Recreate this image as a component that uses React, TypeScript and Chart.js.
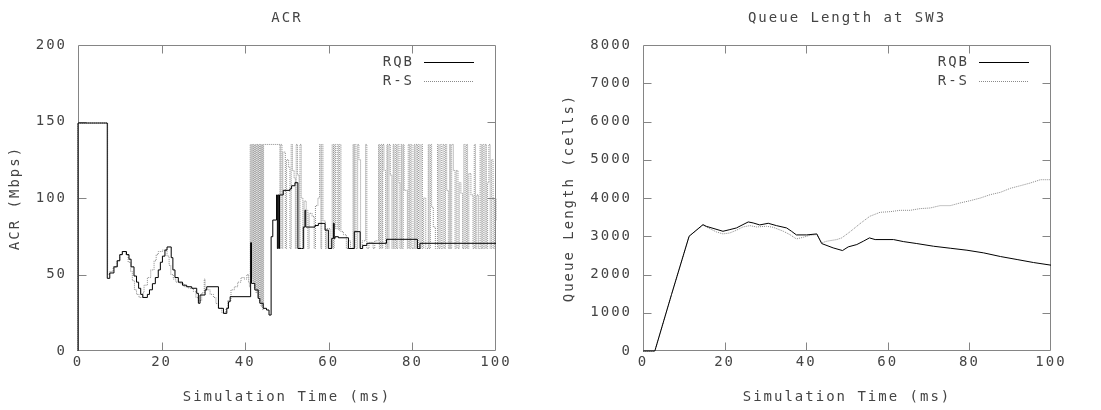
import React, { useEffect, useRef } from "react";
import { Chart, registerables } from "chart.js";

Chart.register(...registerables);

const FONT = "'DejaVu Sans Mono', monospace";
const FONT_SIZE = 14;
const SPACING = "2px";
const TEXT = "#444444";
const FRAME = "#858585";

const seriesLabels = ["RQB", "R-S"];
const timeTicks = [0, 20, 40, 60, 80, 100];
const acrTicks = [0, 50, 100, 150, 200];
const queueTicks = [0, 1000, 2000, 3000, 4000, 5000, 6000, 7000, 8000];

// ACR (Mbps) vs time (ms), stepped (value holds until next x)
const acrRqb: number[][] = [
  [0, 0], [0, 149], [7.0, 47.5], [7.6, 51], [8.6, 55], [9.4, 59], [10.0, 63], [10.6, 65],
  [11.6, 63], [12.2, 60], [12.7, 55], [13.4, 49], [14.0, 45], [14.5, 41], [15.0, 37], [15.5, 35],
  [16.6, 37], [17.1, 40], [17.8, 44], [18.5, 48], [19.2, 53], [19.7, 58], [20.2, 62], [20.8, 66],
  [21.3, 68], [22.3, 61], [22.7, 53], [23.2, 48], [24.0, 45], [25.0, 43], [26.0, 42], [27.2, 41],
  [28.4, 37.7], [28.8, 31.2], [29.2, 36.6], [30.4, 39.9], [30.8, 42], [33.6, 27.9], [34.8, 24.6],
  [35.6, 27.9], [36.0, 32.2], [36.4, 35.5], [41.3, 70.8], [41.5, 44.2], [42.3, 39.9], [43.1, 34.4],
  [43.5, 31.2], [44.3, 27.9], [45.1, 26.8], [45.7, 23.5], [46.2, 74.7], [46.6, 85.6], [47.5, 102],
  [47.7, 67], [47.9, 102], [48.1, 67], [48.2, 102], [49.1, 105], [50.7, 106], [51.1, 108],
  [51.9, 110], [52.6, 67], [53.5, 67], [53.9, 81], [54.3, 92], [54.5, 81], [56.7, 82], [57.5, 83.4],
  [59.1, 79], [59.9, 67], [60.7, 73.6], [61.1, 83.4], [61.3, 73.6], [61.5, 74.7], [62.3, 74],
  [64.7, 67], [66.1, 78], [67.5, 67], [68.1, 69], [69.1, 70.4], [73.8, 73], [81.2, 67], [81.8, 70.4],
  [100, 70.4],
];

const acrRs: number[][] = [
  [0, 0], [0, 149], [7.1, 50], [7.6, 52], [8.4, 55], [9.2, 59], [10.0, 63], [10.6, 65], [11.4, 63],
  [12.0, 58], [12.6, 52], [13.0, 46], [13.5, 40], [14.0, 37], [14.6, 35], [15.5, 38], [15.8, 43],
  [16.6, 48], [17.4, 53], [18.2, 59], [18.7, 63], [19.2, 65], [20.2, 66], [21.3, 62], [21.8, 56],
  [22.2, 50], [22.8, 47], [23.4, 45], [24.4, 44], [25.4, 42], [26.5, 41], [27.6, 39], [28.2, 35],
  [28.8, 33], [29.6, 38], [30.2, 47], [30.4, 40], [31.6, 37], [32.4, 35], [33.0, 31], [33.6, 28],
  [34.4, 25], [35.4, 28], [35.8, 33], [36.6, 40], [37.4, 42], [38.2, 45], [39.0, 48], [39.8, 47],
  [40.4, 50], [40.8, 45], [41.0, 42],
  [41.2, 135], [41.4, 48], [41.6, 135], [41.8, 45], [42.0, 135], [42.2, 41], [42.4, 135], [42.6, 38],
  [42.8, 135], [43.0, 35], [43.2, 135], [43.4, 32], [43.6, 135], [43.8, 29], [44.0, 135], [44.2, 27],
  [44.4, 135], [48.3, 67], [48.5, 135], [48.8, 67], [49.0, 130], [49.6, 67], [49.9, 125], [50.4, 120],
  [50.7, 67], [51.0, 135], [51.3, 118], [51.7, 113], [52.0, 67], [52.2, 135], [52.5, 115], [52.9, 67],
  [53.1, 135], [53.4, 100], [53.8, 67], [54.1, 98], [54.6, 92], [55.0, 67], [55.3, 90], [56.0, 88],
  [56.5, 67], [56.8, 95], [57.4, 100], [57.8, 135], [58.1, 67], [58.3, 135], [58.6, 85], [59.2, 67],
  [59.5, 80], [60.3, 67], [60.8, 135], [61.1, 67], [61.3, 135], [61.6, 80], [62.0, 135], [62.3, 79],
  [62.6, 135], [62.9, 78], [63.5, 76], [64.2, 67], [64.6, 72], [65.2, 67], [65.8, 135], [66.0, 67],
  [66.2, 135], [66.5, 67], [66.9, 135], [67.2, 125], [67.6, 67], [68.0, 72], [68.8, 135], [69.1, 67],
  [69.6, 71], [70.6, 67], [71.0, 72], [71.9, 135], [72.1, 67], [72.4, 135], [72.7, 67], [72.9, 135],
  [73.2, 118], [73.6, 67], [73.9, 135], [74.1, 67], [74.4, 135], [74.7, 115], [75.1, 67], [75.4, 135],
  [75.6, 67], [75.9, 135], [76.2, 67], [76.5, 135], [76.8, 110], [77.0, 67], [77.3, 135], [77.5, 67],
  [77.8, 135], [78.0, 105], [78.8, 67], [79.0, 135], [79.3, 67], [79.6, 135], [79.9, 67], [80.4, 135],
  [80.6, 67], [80.9, 135], [81.2, 67], [81.5, 135], [81.8, 67], [82.1, 135], [82.4, 67], [82.7, 100],
  [83.2, 67], [83.8, 135], [84.0, 67], [84.3, 135], [84.6, 94], [85.0, 81], [85.5, 67], [86.0, 135],
  [86.3, 67], [86.6, 135], [86.9, 67], [87.3, 135], [87.6, 67], [87.9, 135], [88.2, 105], [88.6, 67],
  [88.9, 135], [89.1, 67], [89.4, 135], [89.8, 118], [90.2, 67], [90.5, 118], [90.9, 67], [91.2, 110],
  [91.6, 103], [92.0, 67], [92.3, 135], [92.6, 67], [92.9, 135], [93.2, 67], [93.5, 116], [94.0, 102],
  [94.5, 67], [94.8, 135], [95.1, 67], [95.4, 102], [95.8, 67], [96.2, 135], [96.5, 67], [96.8, 135],
  [97.1, 67], [97.4, 135], [97.7, 67], [98.0, 110], [98.3, 135], [98.6, 67], [98.9, 125], [99.3, 67],
  [99.6, 100], [100, 85],
];

// Queue length (cells) vs time (ms)
const queueRqb: number[][] = [
  [0, 0], [2.9, 0], [7.0, 1480], [11.3, 3000], [14.7, 3304], [15.5, 3260], [19.6, 3130], [21.3, 3174],
  [22.9, 3217], [24.5, 3304], [25.8, 3374], [27.0, 3348], [28.6, 3296], [30.7, 3339], [32.7, 3278],
  [35.2, 3217], [36.4, 3130], [37.6, 3035], [40.1, 3035], [42.6, 3061], [43.8, 2809], [46.6, 2696],
  [48.9, 2626], [50.3, 2722], [52.4, 2783], [54.0, 2870], [55.5, 2957], [56.9, 2913], [61.4, 2913],
  [63.8, 2861], [67.1, 2809], [71.2, 2739], [75.3, 2687], [79.4, 2635], [83.5, 2565], [87.6, 2470],
  [91.7, 2391], [95.7, 2313], [100, 2244],
];

const queueRs: number[][] = [
  [0, 0], [2.9, 0], [7.0, 1480], [11.3, 3000], [14.7, 3290], [16.0, 3217], [18.0, 3113], [19.6, 3061],
  [21.3, 3087], [22.9, 3157], [24.5, 3243], [26.2, 3278], [27.8, 3243], [30.3, 3261], [31.9, 3235],
  [34.4, 3130], [36.0, 3043], [37.6, 2930], [39.3, 2974], [40.9, 3026], [42.6, 3043], [43.8, 2826],
  [45.0, 2870], [47.5, 2913], [48.7, 2957], [50.7, 3113], [53.2, 3330], [55.6, 3522], [58.1, 3626],
  [60.6, 3643], [63.0, 3678], [65.5, 3678], [67.9, 3722], [70.4, 3739], [72.8, 3800], [75.3, 3800],
  [77.7, 3870], [80.2, 3930], [82.7, 4000], [85.1, 4087], [87.6, 4148], [90.0, 4252], [92.5, 4322],
  [94.9, 4391], [97.4, 4478], [100, 4478],
];

const toXY = (arr: number[][]) => arr.map(([x, y]) => ({ x, y }));

const gnuplotPlugin = {
  id: "gnuplotFrame",
  beforeUpdate(chart: any) {
    chart.ctx.letterSpacing = SPACING;
  },
  beforeDraw(chart: any) {
    const ctx = chart.ctx;
    ctx.letterSpacing = SPACING;
    ctx.save();
    ctx.fillStyle = "#ffffff";
    ctx.fillRect(0, 0, chart.width, chart.height);
    ctx.restore();
  },
  beforeDatasetsDraw(chart: any) {
    const { ctx, chartArea: a, scales } = chart;
    const L = Math.round(a.left) + 0.5;
    const R = Math.round(a.right) - 0.5;
    const T = Math.round(a.top) + 0.5;
    const B = Math.round(a.bottom) - 0.5;
    ctx.save();
    ctx.strokeStyle = FRAME;
    ctx.lineWidth = 1;
    ctx.beginPath();
    ctx.rect(L, T, R - L, B - T);
    const tl = 8;
    scales.x.ticks.forEach((t: any) => {
      const px = Math.round(scales.x.getPixelForValue(t.value)) + 0.5;
      if (px <= L + 1 || px >= R - 1) return;
      ctx.moveTo(px, B);
      ctx.lineTo(px, B - tl);
      ctx.moveTo(px, T);
      ctx.lineTo(px, T + tl);
    });
    scales.y.ticks.forEach((t: any) => {
      const py = Math.round(scales.y.getPixelForValue(t.value)) + 0.5;
      if (py <= T + 1 || py >= B - 1) return;
      ctx.moveTo(L, py);
      ctx.lineTo(L + tl, py);
      ctx.moveTo(R, py);
      ctx.lineTo(R - tl, py);
    });
    ctx.stroke();
    ctx.restore();
  },
  afterDatasetsDraw(chart: any) {
    const { ctx, chartArea: a } = chart;
    ctx.save();
    ctx.letterSpacing = SPACING;
    ctx.font = `${FONT_SIZE}px ${FONT}`;
    ctx.fillStyle = TEXT;
    ctx.textAlign = "right";
    ctx.textBaseline = "middle";
    chart.data.datasets.forEach((ds: any, i: number) => {
      const y = Math.round(a.top + 17 + i * 18.5) + 0.5;
      ctx.fillText(ds.label, a.right - 82, y);
      ctx.beginPath();
      ctx.strokeStyle = ds.borderColor;
      ctx.lineWidth = 1;
      ctx.setLineDash(ds.borderDash || []);
      ctx.moveTo(a.right - 72, y);
      ctx.lineTo(a.right - 22, y);
      ctx.stroke();
      ctx.setLineDash([]);
    });
    ctx.restore();
  },
};

function makeConfig(opts: {
  title: string;
  yTitle: string;
  yTicks: number[];
  rqb: number[][];
  rs: number[][];
  stepped: boolean;
  yWidth: number;
  padRight: number;
  yTitlePad: number;
}): any {
  const font = { family: FONT, size: FONT_SIZE, weight: "normal" as const };
  return {
    type: "line",
    data: {
      datasets: [
        {
          label: seriesLabels[0],
          data: toXY(opts.rqb),
          borderColor: "#000000",
          borderWidth: 1,
          borderDash: [],
          pointRadius: 0,
          fill: false,
          tension: 0,
          stepped: opts.stepped,
          clip: 2,
        },
        {
          label: seriesLabels[1],
          data: toXY(opts.rs),
          borderColor: "#8a8a8a",
          borderWidth: 1,
          borderDash: [1, 1],
          pointRadius: 0,
          fill: false,
          tension: 0,
          stepped: opts.stepped,
          clip: 2,
        },
      ],
    },
    options: {
      responsive: false,
      maintainAspectRatio: false,
      animation: false,
      devicePixelRatio: 1,
      events: [],
      layout: { padding: { left: 0, right: opts.padRight, top: 0, bottom: 0 } },
      plugins: {
        legend: { display: false },
        tooltip: { enabled: false },
        title: {
          display: true,
          fullSize: false,
          text: opts.title,
          color: TEXT,
          font,
          padding: { top: 10, bottom: 18.2 },
        },
      },
      scales: {
        x: {
          type: "linear",
          min: 0,
          max: 100,
          afterBuildTicks: (s: any) => {
            s.ticks = timeTicks.map((v) => ({ value: v }));
          },
          ticks: {
            color: TEXT,
            font,
            padding: 3,
            maxRotation: 0,
            autoSkip: false,
            callback: (v: any) => String(v),
          },
          grid: { display: false, drawTicks: false },
          border: { display: false },
          title: {
            display: true,
            text: "Simulation Time (ms)",
            color: TEXT,
            font,
            padding: { top: 0, bottom: 4.6 },
          },
          afterFit: (s: any) => {
            s.height = 59;
          },
        },
        y: {
          type: "linear",
          min: opts.yTicks[0],
          max: opts.yTicks[opts.yTicks.length - 1],
          afterBuildTicks: (s: any) => {
            s.ticks = opts.yTicks.map((v) => ({ value: v }));
          },
          ticks: {
            color: TEXT,
            font,
            padding: 11,
            autoSkip: false,
            callback: (v: any) => String(v),
          },
          grid: { display: false, drawTicks: false },
          border: { display: false },
          title: {
            display: true,
            text: opts.yTitle,
            color: TEXT,
            font,
            padding: { top: opts.yTitlePad, bottom: 0 },
          },
          afterFit: (s: any) => {
            s.width = opts.yWidth;
          },
        },
      },
    },
    plugins: [gnuplotPlugin],
  };
}

export default function App() {
  const leftRef = useRef<HTMLCanvasElement>(null);
  const rightRef = useRef<HTMLCanvasElement>(null);

  useEffect(() => {
    const c1 = new Chart(
      leftRef.current!,
      makeConfig({
        title: "ACR",
        yTitle: "ACR (Mbps)",
        yTicks: acrTicks,
        rqb: acrRqb,
        rs: acrRs,
        stepped: true,
        yWidth: 78,
        padRight: 54,
        yTitlePad: 6.6,
      })
    );
    const c2 = new Chart(
      rightRef.current!,
      makeConfig({
        title: "Queue Length at SW3",
        yTitle: "Queue Length (cells)",
        yTicks: queueTicks,
        rqb: queueRqb,
        rs: queueRs,
        stepped: false,
        yWidth: 93,
        padRight: 50,
        yTitlePad: 10.6,
      })
    );
    return () => {
      c1.destroy();
      c2.destroy();
    };
  }, []);

  return (
    <div
      style={{
        position: "fixed",
        left: 0,
        top: 0,
        width: 1101,
        height: 410,
        background: "#ffffff",
      }}
    >
      <canvas
        ref={leftRef}
        width={550}
        height={410}
        style={{ position: "absolute", left: 0, top: 0, width: 550, height: 410 }}
      />
      <canvas
        ref={rightRef}
        width={551}
        height={410}
        style={{ position: "absolute", left: 550, top: 0, width: 551, height: 410 }}
      />
    </div>
  );
}
